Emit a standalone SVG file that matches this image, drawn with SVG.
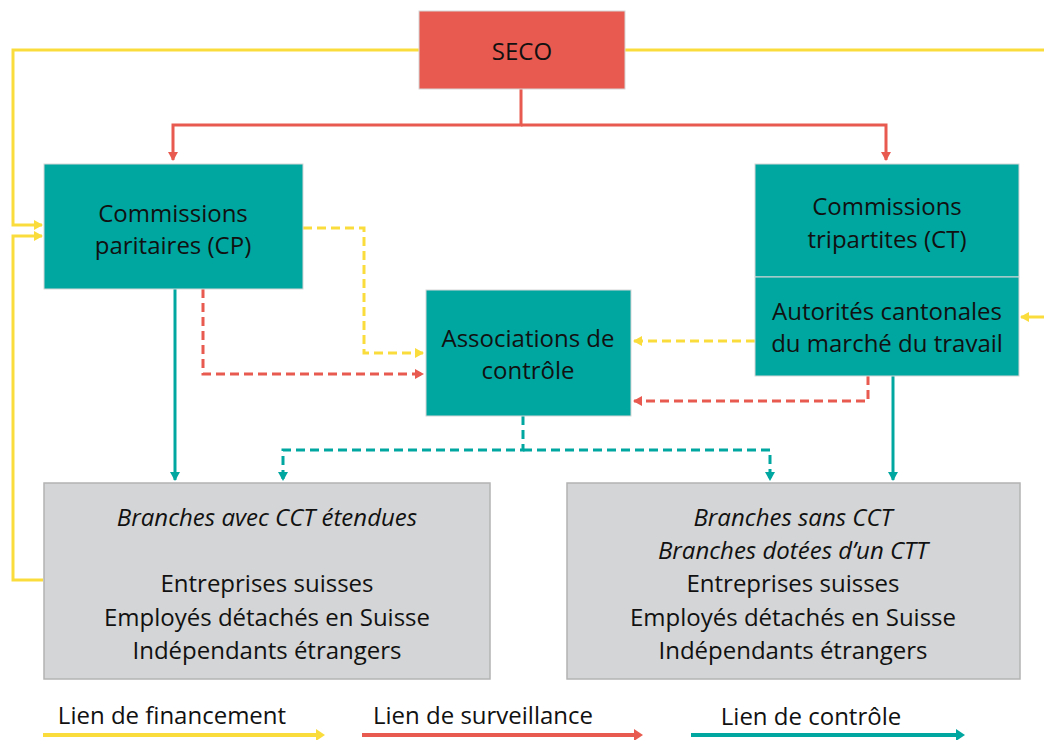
<svg xmlns="http://www.w3.org/2000/svg" width="1044" height="740" viewBox="0 0 1044 740">
<defs>
<style>
.t{font-family:"Open Sans","Liberation Sans",sans-serif;font-size:24px;fill:#111;text-anchor:middle;dominant-baseline:central}
.i{font-style:italic}
.box{fill:#00A6A0;stroke:#d6d6d6;stroke-width:1}
.grey{fill:#D4D5D6;stroke:#b3b3b3;stroke-width:1.5}
.y{stroke:#FADD3C;stroke-width:3;fill:none}
.r{stroke:#E85A4F;stroke-width:3;fill:none}
.g{stroke:#00A6A0;stroke-width:3;fill:none}
.d{stroke-dasharray:9 5}
</style>
<marker id="ay" markerWidth="10" markerHeight="10" refX="8" refY="5" orient="auto" markerUnits="userSpaceOnUse"><path d="M0,0 L9,5 L0,10 Z" fill="#FADD3C"/></marker>
<marker id="ar" markerWidth="10" markerHeight="10" refX="8" refY="5" orient="auto" markerUnits="userSpaceOnUse"><path d="M0,0 L9,5 L0,10 Z" fill="#E85A4F"/></marker>
<marker id="ag" markerWidth="10" markerHeight="10" refX="8" refY="5" orient="auto" markerUnits="userSpaceOnUse"><path d="M0,0 L9,5 L0,10 Z" fill="#00A6A0"/></marker>
</defs>
<rect width="1044" height="740" fill="#fff"/>
<g id="connectors">
<path class="y" d="M419,50 H13 V225 H42" marker-end="url(#ay)"/>
<path class="y" d="M43,580 H13 V236 H42" marker-end="url(#ay)"/>
<path class="y" d="M625,50 H1044"/>
<path class="y" d="M1044,317 H1021" marker-end="url(#ay)"/>
<path class="r" d="M521,89 V125 H173 V160" marker-end="url(#ar)"/>
<path class="r" d="M521,125 H886 V160" marker-end="url(#ar)"/>
<path class="y d" d="M303,228 H364 V353 H423" marker-end="url(#ay)"/>
<path class="r d" d="M203,289 V374 H423" marker-end="url(#ar)"/>
<path class="y d" d="M755,341 H634" marker-end="url(#ay)"/>
<path class="r d" d="M868,376 V401 H634" marker-end="url(#ar)"/>
<path class="g d" d="M523,416 V450 H283 V480" marker-end="url(#ag)"/>
<path class="g d" d="M523,450 H770 V480" marker-end="url(#ag)"/>
<path class="g" d="M175,289 V480" marker-end="url(#ag)"/>
<path class="g" d="M893,376 V480" marker-end="url(#ag)"/>
</g>
<g id="seco"><rect x="419" y="11" width="206" height="78" fill="#E85A4F" stroke="#d6d6d6"/><text class="t" x="522" y="50">SECO</text></g>
<g id="cp"><rect class="box" x="44" y="164" width="259" height="125"/><text class="t" x="173" y="212">Commissions</text><text class="t" x="173" y="244">paritaires (CP)</text></g>
<g id="ct"><rect class="box" x="755" y="164" width="264" height="113"/><text class="t" x="887" y="205">Commissions</text><text class="t" x="887" y="238">tripartites (CT)</text></g>
<g id="autorites"><rect class="box" x="755" y="277" width="264" height="99"/><text class="t" x="887" y="310">Autorités cantonales</text><text class="t" x="887" y="342">du marché du travail</text></g>
<g id="associations"><rect class="box" x="426" y="290" width="205" height="126"/><text class="t" x="528" y="337">Associations de</text><text class="t" x="528" y="369">contrôle</text></g>
<g id="branches-cct"><rect class="grey" x="44" y="483" width="446" height="196"/>
<text class="t i" x="267" y="516">Branches avec CCT étendues</text>
<text class="t" x="267" y="582">Entreprises suisses</text>
<text class="t" x="267" y="616">Employés détachés en Suisse</text>
<text class="t" x="267" y="649">Indépendants étrangers</text></g>
<g id="branches-sans"><rect class="grey" x="567" y="483" width="453" height="196"/>
<text class="t i" x="793" y="516">Branches sans CCT</text>
<text class="t i" x="793" y="549">Branches dotées d’un CTT</text>
<text class="t" x="793" y="582">Entreprises suisses</text>
<text class="t" x="793" y="616">Employés détachés en Suisse</text>
<text class="t" x="793" y="649">Indépendants étrangers</text></g>
<g id="legend">
<text class="t" x="172" y="714">Lien de financement</text>
<text class="t" x="483" y="714">Lien de surveillance</text>
<text class="t" x="811" y="715">Lien de contrôle</text>
<path d="M43,735 H318" stroke="#FADD3C" stroke-width="4"/><path d="M316,729 L325,735 L316,741 Z" fill="#FADD3C"/>
<path d="M362,735 H636" stroke="#E85A4F" stroke-width="4"/><path d="M634,729 L643,735 L634,741 Z" fill="#E85A4F"/>
<path d="M691,735 H958" stroke="#00A6A0" stroke-width="4"/><path d="M956,729 L965,735 L956,741 Z" fill="#00A6A0"/>
</g>
</svg>
